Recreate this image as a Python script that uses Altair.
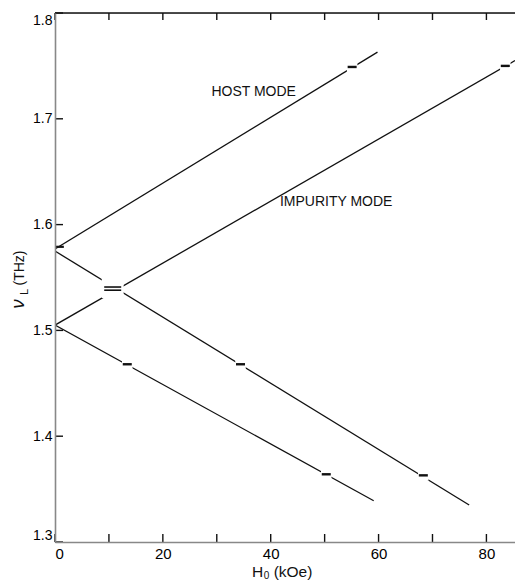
import altair as alt
import pandas as pd

# Axis ticks and labels
x_ticks = [0, 10, 20, 30, 40, 50, 60, 70, 80]
x_labels = [0, 20, 40, 60, 80]
y_ticks = [1.3, 1.4, 1.5, 1.6, 1.7, 1.8]

# Mode branches: start and end points (H0 in kOe, frequency in THz)
branch_names = ["host_up", "host_down", "imp_up", "imp_down"]
branch_h_start = [0.0, 0.0, 0.0, 0.0]
branch_f_start = [1.577, 1.575, 1.505, 1.505]
branch_h_end = [59.8, 76.8, 85.3, 59.1]
branch_f_end = [1.763, 1.335, 1.755, 1.339]

# Laser lines marked on the branches
zero_h = [0.9]
zero_f = [1.579]
laser_h = [13.4, 34.4, 50.3, 68.3, 55.1, 83.5]
laser_f = [1.468, 1.468, 1.364, 1.363, 1.749, 1.750]
cross_h = [10.7, 10.7]
cross_f = [1.541, 1.538]

# Branch labels
label_text = ["HOST MODE", "IMPURITY MODE"]
label_h = [29.0, 41.7]
label_f = [1.725, 1.621]

W, H = 460, 529
FONT = "Liberation Sans"
INK = "#111111"

rows = []
for n, h0, f0, h1, f1 in zip(branch_names, branch_h_start, branch_f_start,
                             branch_h_end, branch_f_end):
    rows.append({"branch": n, "h": h0, "f": f0})
    rows.append({"branch": n, "h": h1, "f": f1})
lines_df = pd.DataFrame(rows)

xs = alt.Scale(domain=[0, 85.3], nice=False, zero=False)
ys = alt.Scale(domain=[1.3, 1.8], nice=False, zero=False)

x_axis = alt.Axis(values=x_labels, format="d", ticks=False, tickSize=0,
                  labelPadding=4, labelFlush=True, grid=False, title=None,
                  labelFontSize=15, domainWidth=1.6, zindex=1)
y_axis = alt.Axis(values=y_ticks, format=".1f", ticks=False, tickSize=0,
                  labelPadding=3, labelFlush=True, labelFlushOffset=0,
                  grid=False, title=None, labelFontSize=14, domainWidth=1.6,
                  zindex=1)

lines = alt.Chart(lines_df).mark_line(color=INK, strokeWidth=1.3, clip=True).encode(
    x=alt.X("h:Q", scale=xs, axis=x_axis),
    y=alt.Y("f:Q", scale=ys, axis=y_axis),
    detail="branch:N",
)

laser_df = pd.DataFrame({"h": laser_h, "f": laser_f})
cross_df = pd.DataFrame({"h": cross_h, "f": cross_f})
zero_df = pd.DataFrame({"h": zero_h, "f": zero_f})

gaps = alt.Chart(laser_df).mark_square(size=110, color="white", opacity=1,
                                       strokeWidth=0).encode(
    x=alt.X("h:Q", scale=xs), y=alt.Y("f:Q", scale=ys))
cross_gap = alt.Chart(cross_df.head(1)).mark_square(size=480, color="white",
                                                    opacity=1, strokeWidth=0).encode(
    x=alt.X("h:Q", scale=xs), y=alt.Y("f:Q", scale=ys))

dashes = alt.Chart(laser_df).mark_tick(orient="horizontal", size=9, thickness=2.4,
                                       color=INK, opacity=1).encode(
    x=alt.X("h:Q", scale=xs), y=alt.Y("f:Q", scale=ys))
cross_dashes = alt.Chart(cross_df).mark_tick(orient="horizontal", size=17,
                                             thickness=1.6, color=INK, opacity=1).encode(
    x=alt.X("h:Q", scale=xs), y=alt.Y("f:Q", scale=ys))
zero_dash = alt.Chart(zero_df).mark_tick(orient="horizontal", size=8, thickness=2.2,
                                         color=INK, opacity=1).encode(
    x=alt.X("h:Q", scale=xs), y=alt.Y("f:Q", scale=ys))

labels = alt.Chart(pd.DataFrame({"t": label_text, "h": label_h, "f": label_f})).mark_text(
    align="left", baseline="middle", font=FONT, fontSize=14, color=INK).encode(
    x=alt.X("h:Q", scale=xs), y=alt.Y("f:Q", scale=ys), text="t:N")

# Inward-pointing ticks on the left, bottom and top frame
xt_df = pd.DataFrame({"h": x_ticks})
yt_df = pd.DataFrame({"f": y_ticks})
left_ticks = alt.Chart(yt_df).mark_rule(color=INK, strokeWidth=1.4).encode(
    y=alt.Y("f:Q", scale=ys), x=alt.value(0), x2=alt.value(8))
bottom_ticks = alt.Chart(xt_df).mark_rule(color=INK, strokeWidth=1.4).encode(
    x=alt.X("h:Q", scale=xs), y=alt.value(H), y2=alt.value(H - 8))
top_ticks = alt.Chart(xt_df).mark_rule(color=INK, strokeWidth=1.4).encode(
    x=alt.X("h:Q", scale=xs), y=alt.value(0), y2=alt.value(7))
top_frame = alt.Chart(pd.DataFrame({"k": [0]})).mark_rule(color=INK, strokeWidth=1.6).encode(
    x=alt.value(0), x2=alt.value(W), y=alt.value(0))


def piece(text, x, y, size, angle=0, style="normal"):
    return alt.Chart(pd.DataFrame({"k": [0]})).mark_text(
        text=text, font=FONT, fontSize=size, fontStyle=style, angle=angle,
        align="center", baseline="alphabetic", color=INK).encode(
        x=alt.value(x), y=alt.value(y))


# Axis titles: H0 (kOe) and nu_L (THz)
titles = [
    piece("H", 202.5, 564, 15.5),
    piece("0", 211.5, 565.5, 10),
    piece("(kOe)", 238, 564, 15.5),
    piece("\u03bd", -31, 291, 19, angle=270, style="italic"),
    piece("L", -27, 279, 11, angle=270),
    piece("(THz)", -31, 255, 14, angle=270),
]

chart = alt.layer(
    lines, gaps, cross_gap, dashes, cross_dashes, zero_dash, labels,
    left_ticks, bottom_ticks, top_ticks, top_frame, *titles,
).properties(
    width=W, height=H,
    autosize=alt.AutoSizeParams(type="none"),
    padding={"left": 55, "top": 13, "right": 0, "bottom": 38},
).configure_view(stroke=None).configure_axis(
    labelFont=FONT, labelColor=INK, domainColor=INK,
).configure(background="white")

chart.save("out.html", embed_options={"renderer": "svg", "actions": False})
